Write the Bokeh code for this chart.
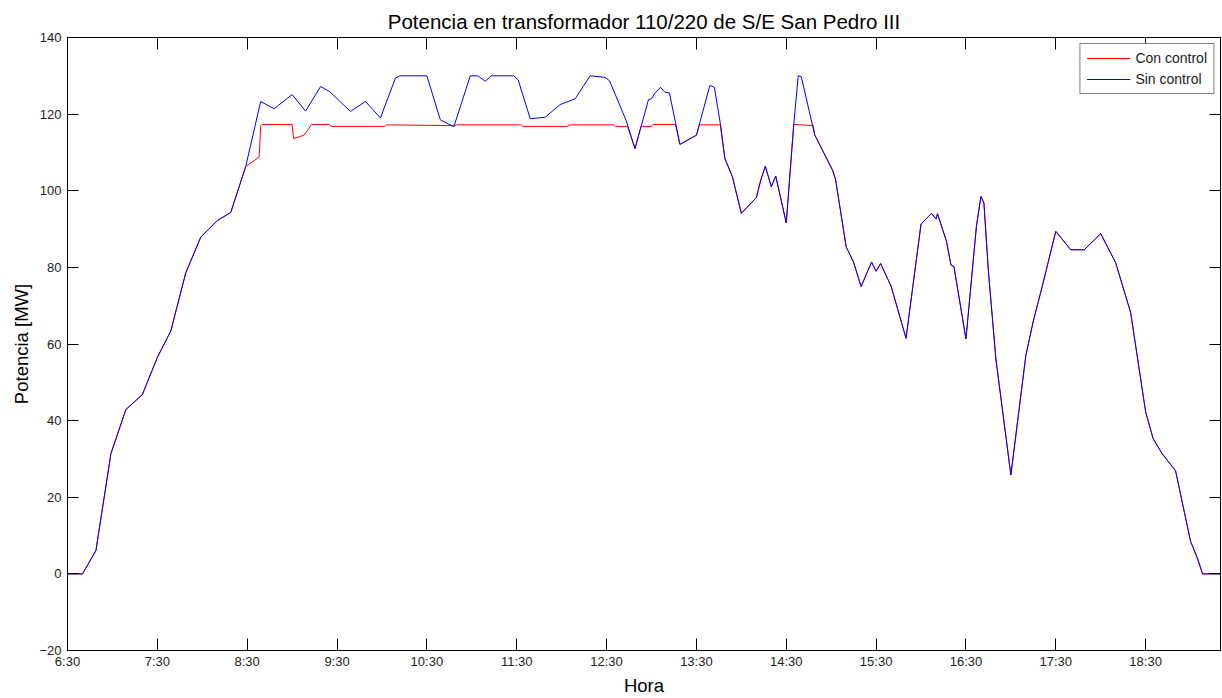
from bokeh.plotting import figure
from bokeh.models import Range1d, FixedTicker, LinearAxis, Legend, LegendItem
from bokeh.embed import file_html
from bokeh.resources import INLINE

# ---- data ----
hora_sin = ["6:30", "6:40", "6:49", "6:59", "7:09", "7:20", "7:30", "7:39", "7:49", "7:59",
            "8:10", "8:19", "8:29", "8:39", "8:48", "9:00", "9:09", "9:19", "9:25", "9:39",
            "9:49", "9:59", "10:09", "10:12", "10:30", "10:39", "10:48", "10:59", "11:04", "11:09",
            "11:13", "11:28", "11:31", "11:39", "11:49", "11:59", "12:09", "12:19", "12:29", "12:32",
            "12:43", "12:49", "12:58", "13:00", "13:02", "13:06", "13:09", "13:12", "13:19", "13:30",
            "13:39", "13:42", "13:46", "13:49", "13:54", "14:00", "14:10", "14:13", "14:16", "14:20",
            "14:23", "14:30", "14:35", "14:38", "14:40", "14:49", "15:01", "15:03", "15:10", "15:15",
            "15:20", "15:27", "15:30", "15:33", "15:40", "15:50", "16:00", "16:07", "16:10", "16:11",
            "16:17", "16:20", "16:22", "16:30", "16:37", "16:40", "16:42", "16:45", "16:50", "17:00",
            "17:10", "17:15", "17:21", "17:30", "17:40", "17:49", "18:00", "18:10", "18:20", "18:30",
            "18:35", "18:41", "18:50", "19:00", "19:04", "19:08", "19:20"]
p_sin = [0, 0, 6.1, 31.4, 42.9, 46.8, 56.5, 63.4, 78.6, 87.9,
         92.2, 94.3, 106.3, 123.3, 121.4, 125.1, 120.8, 127.2, 125.9, 120.7,
         123.3, 119.0, 129.4, 130.0, 130.0, 118.5, 116.7, 130.0, 130.0, 128.6,
         130.0, 130.0, 128.9, 118.8, 119.2, 122.5, 124.0, 130.0, 129.6, 128.7,
         118.4, 111.0, 123.8, 124.0, 125.3, 127.0, 125.7, 125.5, 112.1, 114.5,
         127.5, 127.0, 117.5, 108.4, 103.7, 94.1, 98.2, 102.8, 106.4, 101.1,
         103.8, 91.6, 117.3, 130.0, 129.8, 114.6, 105.3, 102.8, 85.4, 81.3,
         75.0, 81.4, 79.0, 81.0, 75.1, 61.5, 91.3, 94.1, 92.6, 94.0,
         86.8, 80.6, 80.2, 61.3, 90.7, 98.5, 96.8, 79.0, 56.1, 25.8,
         57.0, 66.0, 75.1, 89.4, 84.6, 84.6, 88.8, 81.2, 68.2, 42.3,
         35.3, 31.4, 26.9, 8.5, 4.6, 0, 0]

hora_con = ["6:30", "6:40", "6:49", "6:59", "7:09", "7:20", "7:30", "7:39", "7:49", "7:59",
            "8:10", "8:19", "8:29", "8:38", "8:39", "8:40", "9:00", "9:01", "9:08", "9:13",
            "9:25", "9:26", "10:02", "10:03", "10:48", "10:50", "11:33", "11:34", "12:04", "12:05",
            "12:35", "12:36", "12:44", "12:49", "12:53", "13:00", "13:01", "13:16", "13:19", "13:30",
            "13:32", "13:46", "13:49", "13:54", "14:00", "14:10", "14:13", "14:16", "14:20", "14:23",
            "14:30", "14:35", "14:48", "14:49", "15:01", "15:03", "15:10", "15:15", "15:20", "15:27",
            "15:30", "15:33", "15:40", "15:50", "16:00", "16:07", "16:10", "16:11", "16:17", "16:20",
            "16:22", "16:30", "16:37", "16:40", "16:42", "16:45", "16:50", "17:00", "17:10", "17:15",
            "17:21", "17:30", "17:40", "17:49", "18:00", "18:10", "18:20", "18:30", "18:35", "18:41",
            "18:50", "19:00", "19:05", "19:08", "19:20"]
p_con = [0, 0, 6.1, 31.4, 42.9, 46.8, 56.5, 63.4, 78.6, 87.9,
         92.2, 94.3, 106.3, 108.8, 116.9, 117.3, 117.3, 113.6, 114.5, 117.3,
         117.3, 116.8, 116.8, 117.2, 117.0, 117.2, 117.2, 116.8, 116.8, 117.2,
         117.2, 116.8, 116.8, 111.0, 116.8, 116.8, 117.3, 117.3, 112.1, 114.5,
         117.2, 117.2, 108.4, 103.7, 94.1, 98.2, 102.8, 106.4, 101.1, 103.8,
         91.6, 117.3, 117.0, 114.6, 105.3, 102.8, 85.4, 81.3, 75.0, 81.4,
         79.0, 81.0, 75.1, 61.5, 91.3, 94.1, 92.6, 94.0, 86.8, 80.6,
         80.2, 61.3, 90.7, 98.5, 96.8, 79.0, 56.1, 25.8, 57.0, 66.0,
         75.1, 89.4, 84.6, 84.6, 88.8, 81.2, 68.2, 42.3, 35.3, 31.4,
         26.9, 8.5, 3.8, 0, 0]

x_tick_labels = ["6:30", "7:30", "8:30", "9:30", "10:30", "11:30", "12:30",
                 "13:30", "14:30", "15:30", "16:30", "17:30", "18:30"]
y_ticks = [-20, 0, 20, 40, 60, 80, 100, 120, 140]
x_start, x_end = "6:30", "19:20"


def to_h(s):
    h, m = s.split(":")
    return int(h) + int(m) / 60.0


x_sin = [to_h(s) for s in hora_sin]
x_con = [to_h(s) for s in hora_con]
x_ticks = [to_h(s) for s in x_tick_labels]

FONT = "Liberation Sans"

p = figure(width=1222, height=698, output_backend="svg", toolbar_location=None,
           x_range=Range1d(to_h(x_start), to_h(x_end)), y_range=Range1d(-20, 140),
           min_border_left=67, min_border_right=2, min_border_top=37, min_border_bottom=45,
           background_fill_color="white", border_fill_color="white")

p.title.text = "Potencia en transformador 110/220 de S/E San Pedro III"
p.title.text_font = FONT
p.title.text_font_size = "20.5px"
p.title.text_font_style = "normal"
p.title.align = "center"
p.title.standoff = 10
p.title.text_color = "black"

p.grid.visible = False
p.outline_line_color = "black"

xa = p.xaxis[0]
xa.ticker = FixedTicker(ticks=x_ticks)
xa.major_label_overrides = {t: l for t, l in zip(x_ticks, x_tick_labels)}
xa.axis_label = "Hora"
ya = p.yaxis[0]
ya.ticker = FixedTicker(ticks=y_ticks)
ya.axis_label = "Potencia [MW]"

for ax, tin in ((xa, 12), (ya, 11)):
    ax.major_tick_in = tin
    ax.major_tick_out = 0
    ax.minor_tick_line_color = None
    ax.axis_line_color = "black"
    ax.major_tick_line_color = "black"
    ax.major_label_text_font = FONT
    ax.major_label_text_font_size = "13px"
    ax.major_label_text_color = "#222222"
    ax.axis_label_text_font = FONT
    ax.axis_label_text_font_size = "18.5px"
    ax.axis_label_text_font_style = "normal"
    ax.axis_label_text_color = "black"
xa.major_label_standoff = 3
xa.axis_label_standoff = 3
ya.major_label_standoff = 6
ya.axis_label_standoff = 4

top = LinearAxis(ticker=FixedTicker(ticks=x_ticks), major_tick_in=12, major_tick_out=0,
                 minor_tick_line_color=None, major_label_text_font_size="1px",
                 major_label_text_color=None,
                 major_label_standoff=0, axis_line_color="black", major_tick_line_color="black")
right = LinearAxis(ticker=FixedTicker(ticks=y_ticks), major_tick_in=11, major_tick_out=0,
                   minor_tick_line_color=None, major_label_text_font_size="1px",
                   major_label_text_color=None,
                   major_label_standoff=0, axis_line_color="black", major_tick_line_color="black")
p.add_layout(top, "above")
p.add_layout(right, "right")

r_con = p.line(x_con, p_con, line_color="#ff0000", line_width=1)
r_sin = p.line(x_sin, p_sin, line_color="#0000ff", line_width=1)

legend = Legend(items=[LegendItem(label="Con control", renderers=[r_con]),
                       LegendItem(label="Sin control", renderers=[r_sin])],
                location="top_right")
legend.margin = 6
legend.padding = 6
legend.spacing = 5
legend.glyph_width = 44
legend.glyph_height = 16
legend.label_height = 16
legend.label_standoff = 5
legend.label_text_font = FONT
legend.label_text_font_size = "14px"
legend.label_text_color = "#222222"
legend.border_line_color = "black"
legend.border_line_width = 1
legend.background_fill_color = "white"
legend.background_fill_alpha = 1
p.add_layout(legend, "center")

open("out.html", "w").write(file_html(p, INLINE))
